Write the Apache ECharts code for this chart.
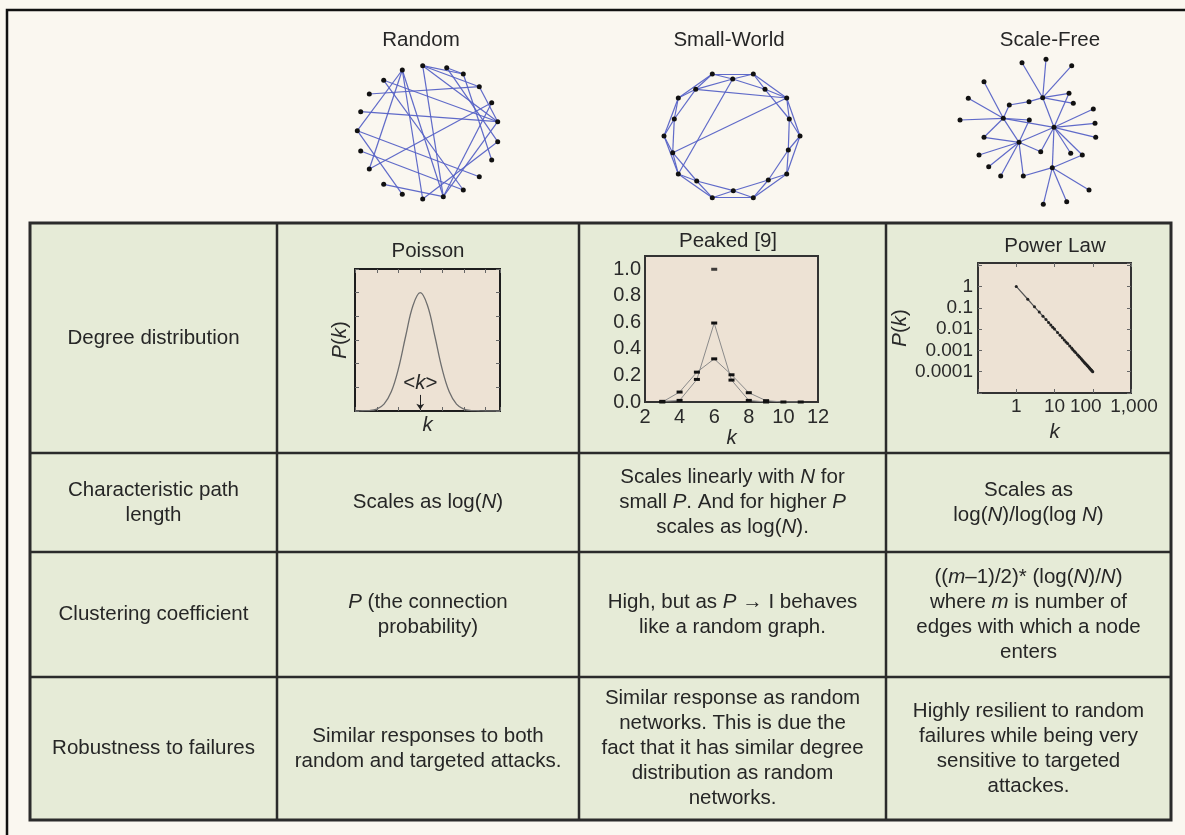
<!DOCTYPE html>
<html><head><meta charset="utf-8">
<script src="https://cdn.jsdelivr.net/npm/echarts@6/dist/echarts.min.js"></script>
<style>html,body{margin:0;padding:0;background:#faf7f0;}#c{width:1185px;height:835px;}</style>
</head><body><div id="c"></div>
<script>
const F = '"Liberation Sans", Arial, Helvetica, sans-serif';
const TXT = '#262626';
const FS = 20.5;
const AFS = 20;

// ---------- network graphs (node positions, edges as index pairs) ----------
const randomNodes = [[422.7,65.7],[446.7,67.7],[463.3,74],[402.3,70],[383.7,80.3],[479.3,86.7],[369.3,94],[491.7,102.7],[360.7,111.7],[497.7,121.7],[357.3,130.7],[497.7,141.7],[360.7,151],[369.3,169],[491.7,160],[479.3,176.7],[383.7,184.3],[463.3,190],[402.3,194.3],[422.7,199],[443.3,196.7]];
const randomEdges = [[0,5],[0,9],[0,20],[0,2],[2,14],[3,10],[3,13],[3,19],[4,9],[4,17],[6,5],[8,9],[10,15],[12,17],[16,20],[20,9],[19,11],[7,20],[5,9],[1,11],[13,7],[1,2],[3,20],[10,18]];

const smallWorldNodes = [[712.3,74],[732.7,79],[753.3,74],[765,89.3],[786.7,98],[789.3,119],[800,136],[788.3,150],[786.7,174],[768.3,180],[753.3,197.7],[733.3,190.7],[712.3,197.7],[696.7,181],[678.3,174],[672.7,152.7],[664,136],[674.3,119],[678.3,98],[695.7,89.3]];
const smallWorldEdges = [[0,1],[1,2],[2,3],[3,4],[4,5],[5,6],[6,7],[7,8],[8,9],[9,10],[10,11],[11,12],[12,13],[13,14],[14,15],[15,16],[16,17],[17,18],[18,19],[19,0],
  [0,2],[1,3],[2,4],[3,5],[4,6],[5,7],[6,8],[7,9],[8,10],[9,11],[10,12],[11,13],[12,14],[13,15],[14,16],[15,17],[16,18],[17,19],[18,0],[19,1],
  [19,4],[15,4],[1,14]];

const scaleFreeNodes = [[1042.7,97.7],[1054,127.3],[1003.3,118.3],[1019,142.3],[1052.3,167.7],[1022,62.7],[1046,59.3],[1071.7,65.7],[984,81.7],[968.3,98.3],[960,120],[1009.3,105],[1029,101.7],[1069,93.3],[1073.3,103.3],[1093.3,109],[1095,123.3],[1095.7,137.3],[1029.3,120],[984,137.3],[979,155],[1040.7,151.7],[1070.7,153.3],[1082.3,155],[988.7,166.7],[1000.7,176],[1023.3,176],[1089,190],[1043.3,204.3],[1066.7,201.7]];
const scaleFreeEdges = [[0,5],[0,6],[0,7],[0,13],[0,12],[0,1],[0,14],[2,8],[2,9],[2,10],[2,11],[2,18],[2,1],[2,3],[2,19],[11,12],
  [1,15],[1,16],[1,17],[1,13],[1,21],[1,22],[1,23],[1,4],[3,19],[3,20],[3,24],[3,25],[3,26],[3,18],[3,21],[3,1],[4,26],[4,27],[4,28],[4,29],[4,23]];

const networkTitles = ['Random','Small-World','Scale-Free'];

// ---------- degree distributions ----------
const poissonK = [0,1,2,3,4,5,6,7,8,9,10,11,12,13,14,15,16,17,18,19,20];
const poissonP = [0,0.01,0.02,0.08,0.29,0.81,1.80,3.18,4.46,5.0,4.46,3.18,1.80,0.81,0.29,0.08,0.02,0.01,0,0,0];
const meanK = 9;

const peakedK = [3,4,5,6,7,8,9,10,11];
const peakedBroad = [0.0,0.075,0.225,0.325,0.205,0.07,0.01,0.0,0.0];
const peakedNarrowK = [3,4,5,6,7,8,9];
const peakedNarrow = [0.005,0.012,0.17,0.595,0.165,0.012,0.0];
const peakedDeltaK = [6];
const peakedDelta = [1.0];
const peakedYTicks = ['0.0','0.2','0.4','0.6','0.8','1.0'];
const peakedXTicks = ['2','4','6','8','10','12'];

const powerK = [1,2,3,4,5,6,7,8,9,10,12,14,16,18,20,22,25,28,30,33,36,40,43,46,50,53,56,60,63,66,70,73,76,80,83,86,90,93,96,100];
const powerP = [1,0.25,0.111,0.0625,0.04,0.0278,0.0204,0.0156,0.0123,0.01,0.0069,0.0051,0.0039,0.0031,0.0025,0.0021,0.0016,0.00128,0.00111,0.00092,0.00077,0.000625,0.00054,0.00047,0.0004,0.000356,0.000319,0.000278,0.000252,0.00023,0.000204,0.000188,0.000173,0.000156,0.000145,0.000135,0.000123,0.000116,0.000109,0.0001];
const powerXLabels = {0:'{a|1}',1:'{a|10}',2:'{l|100}',3:'{r|1,000}'};
const powerYLabels = {0:'1','-1':'0.1','-2':'0.01','-3':'0.001','-4':'0.0001'};

// ---------- table text ----------
const rowLabels = ['Degree distribution','Characteristic path\nlength','Clustering coefficient','Robustness to failures'];
const randomCol = ['', 'Scales as log({i|N})', '{i|P} (the connection\nprobability)', 'Similar responses to both\nrandom and targeted attacks.'];
const smallWorldCol = ['', 'Scales linearly with {i|N} for\nsmall {i|P}. And for higher {i|P}\nscales as log({i|N}).', 'High, but as {i|P} \u2192 I behaves\nlike a random graph.', 'Similar response as random\nnetworks. This is due the\nfact that it has similar degree\ndistribution as random\nnetworks.'];
const scaleFreeCol = ['', 'Scales as\nlog({i|N})/log(log {i|N})', '(({i|m}\u20131)/2)* (log({i|N})/{i|N})\nwhere {i|m} is number of\nedges with which a node\nenters', 'Highly resilient to random\nfailures while being very\nsensitive to targeted\nattackes.'];
const chartTitles = ['Poisson','Peaked [9]','Power Law'];

// ---------- layout ----------
const colX = [30, 277, 579, 886, 1171];
const rowY = [223, 453, 552, 677, 820];

function graphSeries(nodes, edges) {
  const xs = nodes.map(p => p[0]), ys = nodes.map(p => p[1]);
  const minX = Math.min(...xs), maxX = Math.max(...xs), minY = Math.min(...ys), maxY = Math.max(...ys);
  return {
    type: 'graph', layout: 'none', silent: true, roam: false,
    left: minX, top: minY, width: maxX - minX, height: maxY - minY,
    symbol: 'circle', symbolSize: 5,
    itemStyle: { color: '#111' },
    lineStyle: { color: '#5662c6', width: 1.2, opacity: 0.95, curveness: 0 },
    label: { show: false },
    data: nodes.map((p, i) => ({ name: 'n' + i, x: p[0], y: p[1] })),
    links: edges.map(e => ({ source: 'n' + e[0], target: 'n' + e[1] }))
  };
}

function richText(text, x, y, size) {
  return {
    type: 'text', x: x, y: y,
    style: {
      text: text, align: 'center', verticalAlign: 'middle',
      fill: TXT, fontSize: size, fontFamily: F, lineHeight: 25,
      rich: { i: { fontStyle: 'italic', fontSize: size, fontFamily: F, fill: TXT, lineHeight: 25 } }
    }
  };
}

const graphics = [];
graphics.push({ type: 'rect', z: -10, shape: { x: 7, y: 10, width: 1200, height: 850 }, style: { fill: '#faf7f0', stroke: '#111', lineWidth: 2.5 } });
graphics.push({ type: 'rect', z: -9, shape: { x: colX[0], y: rowY[0], width: colX[4] - colX[0], height: rowY[4] - rowY[0] }, style: { fill: '#e6ebd7', stroke: '#2b2b2b', lineWidth: 3 } });
for (let c = 1; c < 4; c++) graphics.push({ type: 'line', z: -8, shape: { x1: colX[c], y1: rowY[0], x2: colX[c], y2: rowY[4] }, style: { stroke: '#2b2b2b', lineWidth: 2.5 } });
for (let r = 1; r < 4; r++) graphics.push({ type: 'line', z: -8, shape: { x1: colX[0], y1: rowY[r], x2: colX[4], y2: rowY[r] }, style: { stroke: '#2b2b2b', lineWidth: 2.5 } });

const netCenters = [421, 729, 1050];
networkTitles.forEach((t, i) => graphics.push(richText(t, netCenters[i], 40, FS)));
const titleY = [251, 241, 246];
const titleX = [428, 728, 1055];
chartTitles.forEach((t, i) => graphics.push(richText(t, titleX[i], titleY[i], FS)));

const cols = [rowLabels, randomCol, smallWorldCol, scaleFreeCol];
cols.forEach((col, c) => {
  col.forEach((t, r) => {
    if (!t) return;
    const cx = (colX[c] + colX[c + 1]) / 2;
    const cy = (rowY[r] + rowY[r + 1]) / 2;
    graphics.push(richText(t, cx, cy, FS));
  });
});

const labelStyle = { fontSize: AFS, fontFamily: F, color: '#2a2a2a' };
const powerLabelStyle = { fontSize: 19, fontFamily: F, color: '#2a2a2a' };
const nameStyle = { fontSize: FS, fontFamily: F, color: '#2a2a2a', rich: { i: { fontStyle: 'italic', fontSize: FS, fontFamily: F, color: '#2a2a2a' } } };
const plotBg = '#ede2d4';
const innerTick = { show: true, inside: true, length: 4, lineStyle: { color: '#666', width: 1 } };
const noLine = { show: false, onZero: false };

const option = {
  backgroundColor: '#faf7f0',
  animation: false,
  graphic: { elements: graphics },
  grid: [
    { left: 355, top: 269, width: 145, height: 142, show: true, backgroundColor: plotBg, borderColor: '#1e1e1e', borderWidth: 2, containLabel: false, outerBoundsMode: 'none' },
    { left: 645, top: 256, width: 173, height: 146, show: true, backgroundColor: plotBg, borderColor: '#333', borderWidth: 2, containLabel: false, outerBoundsMode: 'none' },
    { left: 978, top: 263, width: 153, height: 130, show: true, backgroundColor: plotBg, borderColor: '#333', borderWidth: 2, containLabel: false, outerBoundsMode: 'none' }
  ],
  xAxis: [
    { type: 'value', gridIndex: 0, min: 0, max: 20, interval: 3, axisLine: noLine, axisTick: innerTick, axisLabel: { show: false }, splitLine: { show: false },
      name: '{i|k}', nameLocation: 'middle', nameGap: 4, nameTextStyle: nameStyle },
    { type: 'value', gridIndex: 0, position: 'top', min: 0, max: 20, interval: 3, axisLine: noLine, axisTick: innerTick, axisLabel: { show: false }, splitLine: { show: false } },
    { type: 'value', gridIndex: 1, min: 2, max: 12, interval: 2, axisLine: noLine, axisTick: { show: false }, splitLine: { show: false },
      axisLabel: Object.assign({ margin: 5, showMaxLabel: true, showMinLabel: true, hideOverlap: false, formatter: v => peakedXTicks[(v - 2) / 2] || '' }, labelStyle),
      name: '{i|k}', nameLocation: 'middle', nameGap: 18, nameTextStyle: nameStyle },
    { type: 'value', gridIndex: 2, min: -1, max: 3, interval: 1, axisLine: noLine, axisTick: innerTick, splitLine: { show: false },
      axisLabel: Object.assign({ margin: 4, showMaxLabel: true, showMinLabel: true, hideOverlap: false, formatter: v => powerXLabels[v] || '',
        rich: { a: {}, l: { padding: [0, 14, 0, 0] }, r: { padding: [0, 0, 0, 6] } } }, powerLabelStyle),
      name: '{i|k}', nameLocation: 'middle', nameGap: 29, nameTextStyle: nameStyle },
    { type: 'value', gridIndex: 2, position: 'top', min: -1, max: 3, interval: 1, axisLine: noLine, axisTick: innerTick, axisLabel: { show: false }, splitLine: { show: false } }
  ],
  yAxis: [
    { type: 'value', gridIndex: 0, min: 0, max: 6, interval: 1, axisLine: noLine, axisTick: innerTick, axisLabel: { show: false }, splitLine: { show: false },
      name: '{i|P}({i|k})', nameLocation: 'middle', nameGap: 4, nameRotate: 90, nameTextStyle: nameStyle },
    { type: 'value', gridIndex: 0, position: 'right', min: 0, max: 6, interval: 1, axisLine: noLine, axisTick: innerTick, axisLabel: { show: false }, splitLine: { show: false } },
    { type: 'value', gridIndex: 1, min: 0, max: 1.1, interval: 0.2, axisLine: noLine, axisTick: { show: false }, splitLine: { show: false },
      axisLabel: Object.assign({ margin: 4, showMaxLabel: false, formatter: v => { const i = Math.round(v / 0.2); return Math.abs(v - i * 0.2) < 1e-6 ? (peakedYTicks[i] || '') : ''; } }, labelStyle) },
    { type: 'value', gridIndex: 2, min: -5, max: 1.1, interval: 1, axisLine: noLine, axisTick: innerTick, splitLine: { show: false },
      axisLabel: Object.assign({ margin: 5, showMaxLabel: false, formatter: v => powerYLabels[v] || '' }, powerLabelStyle),
      name: '{i|P}({i|k})', nameLocation: 'middle', nameGap: 64, nameRotate: 90, nameTextStyle: nameStyle },
    { type: 'value', gridIndex: 2, position: 'right', min: -5, max: 1.1, interval: 1, axisLine: noLine, axisTick: innerTick, axisLabel: { show: false }, splitLine: { show: false } }
  ],
  series: [
    graphSeries(randomNodes, randomEdges),
    graphSeries(smallWorldNodes, smallWorldEdges),
    graphSeries(scaleFreeNodes, scaleFreeEdges),
    { type: 'line', xAxisIndex: 0, yAxisIndex: 0, smooth: 0.4, showSymbol: false, symbol: 'none',
      lineStyle: { color: '#6e6e6e', width: 1.3 },
      data: poissonK.map((k, i) => [k, poissonP[i]]),
      markLine: { silent: true, symbol: ['none', 'arrow'], symbolSize: 6, animation: false,
        lineStyle: { color: '#222', width: 1, type: 'solid' },
        label: { show: true, position: 'start', distance: 1, formatter: '<{i|k}>', fontSize: FS, fontFamily: F, color: '#2a2a2a',
          rich: { i: { fontStyle: 'italic', fontSize: FS, fontFamily: F, color: '#2a2a2a' } } },
        data: [[{ coord: [meanK, 0.68] }, { coord: [meanK, 0.05] }]] } },
    { type: 'line', xAxisIndex: 2, yAxisIndex: 2, symbol: 'rect', symbolSize: [6, 3], showAllSymbol: true,
      itemStyle: { color: '#111' }, lineStyle: { color: '#8a8a8a', width: 1 },
      data: peakedK.map((k, i) => [k, peakedBroad[i]]) },
    { type: 'line', xAxisIndex: 2, yAxisIndex: 2, symbol: 'rect', symbolSize: [6, 3], showAllSymbol: true,
      itemStyle: { color: '#111' }, lineStyle: { color: '#8a8a8a', width: 1 },
      data: peakedNarrowK.map((k, i) => [k, peakedNarrow[i]]) },
    { type: 'scatter', xAxisIndex: 2, yAxisIndex: 2, symbol: 'rect', symbolSize: [6, 3],
      itemStyle: { color: '#111' }, data: peakedDeltaK.map((k, i) => [k, peakedDelta[i]]) },
    { type: 'line', xAxisIndex: 3, yAxisIndex: 3, symbol: 'circle', symbolSize: 3, showAllSymbol: true,
      itemStyle: { color: '#222' }, lineStyle: { color: '#555', width: 1.2 },
      data: powerK.map((k, i) => [Math.log10(k), Math.log10(powerP[i])]) }
  ]
};

const chart = echarts.init(document.getElementById('c'), null, { renderer: 'canvas' });
chart.setOption(option);
</script>
</body></html>
